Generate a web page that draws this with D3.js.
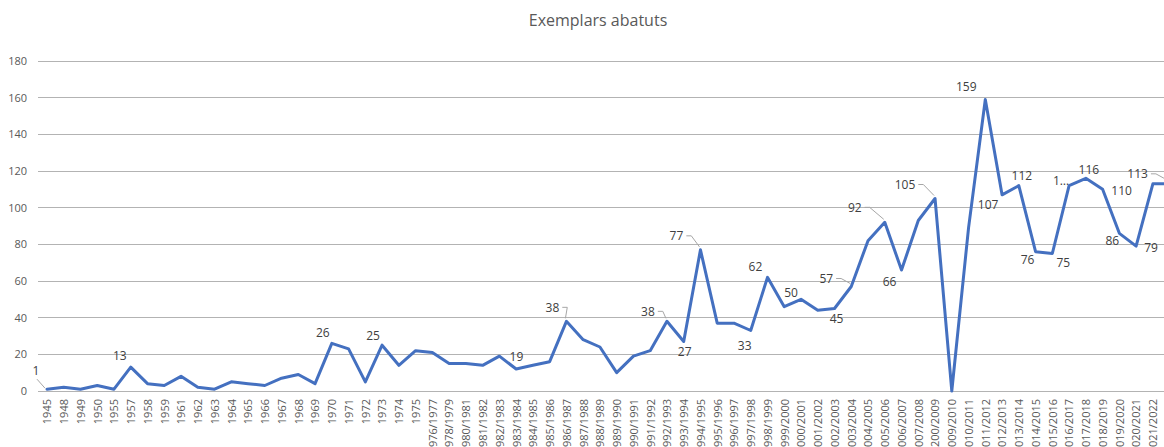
<!DOCTYPE html>
<html>
<head>
<meta charset="utf-8">
<script src="https://cdn.jsdelivr.net/npm/d3@7"></script>
<style>
  body { margin: 0; background: #fff; }
  svg { display: block; font-family: "Open Sans", "Liberation Sans", sans-serif; }
</style>
</head>
<body>
<svg id="chart" width="1164" height="447"></svg>
<script>
// categories as printed on the axis (the last one falls past the right edge)
var categories = ["1945","1948","1949","1950","1955","1957","1958","1959","1961","1962","1963","1964","1965","1966","1967","1968","1969","1970","1971","1972","1973","1974","1975",
  "976/1977","978/1979","980/1981","981/1982","982/1983","983/1984","984/1985","985/1986","986/1987","987/1988","988/1989","989/1990","990/1991","991/1992","992/1993","993/1994","994/1995","995/1996","996/1997","997/1998","998/1999","999/2000",
  "000/2001","001/2002","002/2003","003/2004","004/2005","005/2006","006/2007","007/2008","200/2009","009/2010","010/2011","011/2012","012/2013","013/2014","014/2015","015/2016","016/2017","017/2018","018/2019","019/2020","020/2021","021/2022","022/2023"];

var values = [1,2,1,3,1,13,4,3,8,2,1,5,4,3,7,9,4,26,23,5,25,14,22,
  21,15,15,14,19,12,14,16,38,28,24,10,19,22,38,27,77,37,37,33,62,46,
  50,44,45,57,82,92,66,93,105,0,89,159,107,112,76,75,112,116,110,86,79,113,113];

var yTicks = [0,20,40,60,80,100,120,140,160,180];

var title = "Exemplars abatuts";

// data labels: point index, text, offset from the point, leader line
var labels = [
  [0,"1",-11,-18,"down"],[5,"13",-11,-11],[17,"26",-9,-11],[20,"25",-9,-9],[27,"19",17,1],
  [31,"38",-14,-14,"side"],[37,"38",-19,-10,"side"],[38,"27",1,10],[39,"77",-24,-14,"side"],
  [42,"33",-6,15],[43,"62",-12,-11],[45,"50",-10,-7],[47,"45",2,10],[48,"57",-25,-8,"side"],
  [50,"92",-30,-15,"side"],[51,"66",-12,12],[53,"105",-30,-14,"side"],[56,"159",-19,-13],
  [57,"107",-14,10],[58,"112",3,-10],[59,"76",-8,8],[60,"75",11,9],[61,"1…",-8,-5],
  [62,"116",3,-9],[63,"110",19,1],[64,"86",-7,7],[65,"79",15,2],[67,"113",-32,-10,"side"]
];

var svg = d3.select("#chart");
var W = 1164;

var x = d3.scalePoint().domain(categories).range([38.6, 1178]).padding(0.5);
var y = d3.scaleLinear().domain([0, 180]).range([391, 61]);

svg.append("text").attr("x", 598).attr("y", 26).attr("text-anchor", "middle")
  .attr("font-size", 16).attr("fill", "#595959").text(title);

// gridlines
svg.append("g").selectAll("line").data(yTicks).enter().append("line")
  .attr("x1", 38).attr("x2", W).attr("y1", function(d){return y(d);}).attr("y2", function(d){return y(d);})
  .attr("stroke", "#b3b3b3").attr("stroke-width", 1).attr("shape-rendering", "crispEdges");

var yAxis = svg.append("g").attr("transform", "translate(27,0)")
  .call(d3.axisLeft(y).tickValues(yTicks).tickSize(0).tickPadding(0));
yAxis.select(".domain").remove();
yAxis.selectAll("text").attr("font-size", 11).attr("fill", "#595959").attr("font-family", "Open Sans, sans-serif");

var visible = categories.filter(function(c){ return x(c) < W; });
var xAxis = svg.append("g").attr("transform", "translate(0,391)")
  .call(d3.axisBottom(x).tickValues(visible).tickSize(0).tickPadding(0));
xAxis.select(".domain").remove();
xAxis.selectAll("text")
  .attr("transform", "rotate(-90)")
  .attr("text-anchor", "end")
  .attr("x", -8).attr("y", 0).attr("dy", "0.35em")
  .attr("font-size", 11).attr("fill", "#595959").attr("font-family", "Open Sans, sans-serif");

var line = d3.line()
  .x(function(d, i){ return x(categories[i]); })
  .y(function(d){ return y(d); });

svg.append("path").datum(values).attr("d", line)
  .attr("fill", "none").attr("stroke", "#4470c0").attr("stroke-width", 3)
  .attr("stroke-linejoin", "round").attr("stroke-linecap", "round");

var lg = svg.append("g");
labels.forEach(function(l){
  var px = x(categories[l[0]]), py = y(values[l[0]]);
  var lx = px + l[2], ly = py + l[3];
  var t = lg.append("text").attr("x", lx).attr("y", ly).attr("dy", "0.35em")
    .attr("text-anchor", "middle").attr("font-size", 12).attr("fill", "#404040").text(l[1]);
  var w = t.node().getComputedTextLength();
  if (l[4] === "side") {
    lg.append("path").attr("d", "M" + (lx + w/2 + 3) + "," + ly + "h5L" + (px - 1) + "," + (py - 3))
      .attr("fill", "none").attr("stroke", "#a6a6a6").attr("stroke-width", 1);
  } else if (l[4] === "down") {
    lg.append("path").attr("d", "M" + (lx + 1) + "," + (ly + 8) + "L" + (px - 2) + "," + (py - 1))
      .attr("fill", "none").attr("stroke", "#a6a6a6").attr("stroke-width", 1);
  }
});
</script>
</body>
</html>
